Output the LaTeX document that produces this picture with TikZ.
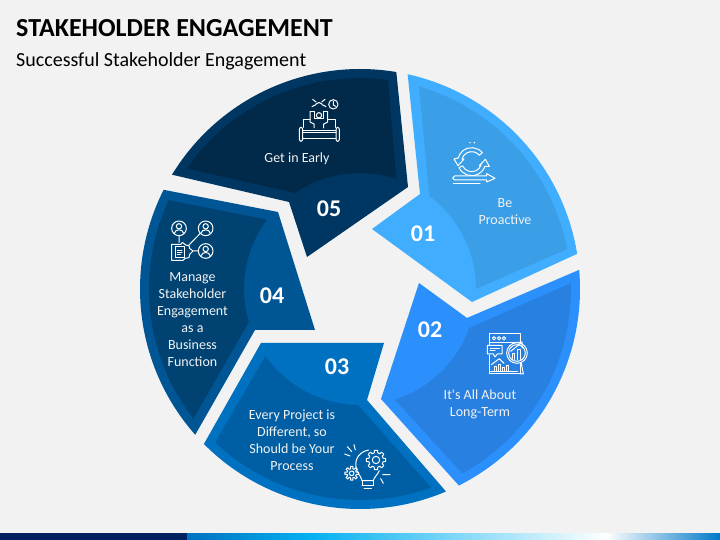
\documentclass[tikz,border=0pt]{standalone}
\usepackage{fontspec}
\setmainfont{Carlito}
\definecolor{pagebg}{HTML}{F2F2F2}
\definecolor{segonea}{HTML}{41ADFF}
\definecolor{segoneb}{HTML}{3A9FE6}
\definecolor{segtwoa}{HTML}{2B8FFC}
\definecolor{segtwob}{HTML}{2880E0}
\definecolor{segthreea}{HTML}{0070C0}
\definecolor{segthreeb}{HTML}{005FA4}
\definecolor{segfoura}{HTML}{005595}
\definecolor{segfourb}{HTML}{004373}
\definecolor{segfivea}{HTML}{003762}
\definecolor{segfiveb}{HTML}{00294A}
\definecolor{barnavy}{HTML}{002060}
\definecolor{barcyan}{HTML}{00B0F0}
\tikzset{
  lbl/.style={text=pagebg, align=center, inner sep=0pt, font=\fontsize{14}{16.9}\selectfont},
  numlbl/.style={text=white, inner sep=0pt, font=\fontsize{24}{28}\selectfont\bfseries},
  icoline/.style={draw=white, line width=1pt, line join=round, line cap=round},
  icozoom/.style={xscale=1/3, yscale=-1/3}
}
% small line-art parts of the icons
\newcommand{\gearico}[3]{
  \begin{scope}[shift={(#1,#2)}]
    \draw[icoline] (-14:#3) \foreach \a in {0,45,...,315}{
      -- ({\a-14}:#3) -- ({\a-9}:#3+7) -- ({\a+9}:#3+7) -- ({\a+14}:#3)} -- cycle;
    \draw[icoline] (0,0) circle ({#3*0.5});
  \end{scope}
}
\newcommand{\personico}[2]{
  \begin{scope}[shift={(#1,#2)}]
    \draw[icoline] (0,0) circle (22);
    \draw[icoline] (0,-6) circle (8);
    \draw[icoline] (-14,15) .. controls (-12,1) and (12,1) .. (14,15);
  \end{scope}
}
\begin{document}
\begin{tikzpicture}[x=1pt, y=1pt]
\useasboundingbox (0,0) rectangle (720,540);
\fill[pagebg] (0,0) rectangle (720,540);

% titles
\node[anchor=base west, inner sep=0pt, font=\fontsize{26}{30}\selectfont\bfseries] (title) at (16,503) {STAKEHOLDER ENGAGEMENT};
\node[anchor=base west, inner sep=0pt, font=\fontsize{20}{24}\selectfont] (subtitle) at (16,473.5) {Successful Stakeholder Engagement};

\coordinate (O) at (360,251);

% outer shapes
\fill[segonea] ([shift={(77.5:220)}]O) arc[start angle=77.5, end angle=9.2, radius=220] -- (472,238) -- (372,311) -- (420,346) -- cycle;
\fill[segtwoa] ([shift={(5:220)}]O) arc[start angle=5, end angle=-63.3, radius=220] -- (381,141) -- (419,257) -- (467,222) -- cycle;
\fill[segthreea] ([shift={(224.8:220)}]O) arc[start angle=224.8, end angle=293, radius=220] -- (367,140) -- (384,197) -- (261,197) -- cycle;
\fill[segfoura] ([shift={(153.2:220)}]O) arc[start angle=153.2, end angle=221.5, radius=220] -- (255,210) -- (315,210) -- (278,328) -- cycle;
\fill[segfivea] ([shift={(148.7:220)}]O) arc[start angle=148.7, end angle=80.5, radius=220] -- (408,353) -- (307,283) -- (289,338) -- cycle;

% darker insets
\fill[segoneb] ([shift={(73.8:211)}]O) arc[start angle=73.8, end angle=10.9, radius=211] -- ([shift={(0:116)}]O) arc[start angle=0, end angle=53.3, radius=116] -- cycle;
\fill[segtwob] ([shift={(1.6:211)}]O) arc[start angle=1.6, end angle=-61, radius=211] -- ([shift={(-72.5:116)}]O) arc[start angle=-72.5, end angle=-19.7, radius=116] -- cycle;
\fill[segthreeb] ([shift={(226.7:211)}]O) arc[start angle=226.7, end angle=289.7, radius=211] -- ([shift={(269:116)}]O) arc[start angle=269, end angle=215.3, radius=116] -- cycle;
\fill[segfourb] ([shift={(155.1:211)}]O) arc[start angle=155.1, end angle=217.9, radius=211] -- ([shift={(196.6:116)}]O) arc[start angle=196.6, end angle=143.3, radius=116] -- cycle;
\fill[segfiveb] ([shift={(145.2:211)}]O) arc[start angle=145.2, end angle=82.4, radius=211] -- ([shift={(71.7:116)}]O) arc[start angle=71.7, end angle=124.1, radius=116] -- cycle;

% numbers
\node[numlbl] (numone) at (423,306.5) {01};
\node[numlbl] (numtwo) at (430,210.5) {02};
\node[numlbl] (numthree) at (337,173.5) {03};
\node[numlbl] (numfour) at (272,244.5) {04};
\node[numlbl] (numfive) at (329,331.5) {05};

% texts
\node[lbl] (txtone) at (505,328) {Be\\Proactive};
\node[lbl] (txttwo) at (480,135.5) {It\textquotesingle s All About\\Long-Term};
\node[lbl] (txtthree) at (292,100) {Every Project is\\Different, so\\Should be Your\\Process};
\node[lbl] (txtfour) at (192.5,220.5) {Manage\\Stakeholder\\Engagement\\as a\\Business\\Function};
\node[lbl] (txtfive) at (297,381) {Get in Early};

% icon 01
\begin{scope}[shift={(440,410)}, icozoom]
  \fill[white] (90,38) circle (2.5) (103,38) circle (2.5);
  \draw[icoline] (127.2,68) arc[start angle=320, end angle=195, radius=42] -- (42,87) -- (54,107) -- (72,87) -- (66,87.2) arc[start angle=195, end angle=320, radius=30] -- cycle;
  \draw[icoline] (57,112.7) arc[start angle=155, end angle=20, radius=42] -- (148,109) -- (136,88) -- (118,107) -- (123.2,105.3) arc[start angle=20, end angle=155, radius=30] -- cycle;
  \draw[icoline, fill=segoneb] (44,138) -- (140,138) -- (140,131) -- (165,145) -- (140,156) -- (140,150) -- (44,150) -- (38,144) -- cycle;
  \draw[icoline] (40,161) -- (120,161);
\end{scope}

% icon 02
\begin{scope}[shift={(480,210)}, icozoom]
  \draw[icoline] (28,45) -- (28,12) -- (120,12) -- (120,132) -- (28,132) -- (28,75);
  \draw[icoline] (28,38) -- (120,38);
  \foreach \x in {42,57,72} \draw[icoline] (\x,25) circle (5);
  \draw[icoline, fill=segtwob] (22,46) -- (66,46) -- (66,72) -- (52,72) -- (45,81) -- (40,72) -- (22,72) -- cycle;
  \draw[icoline] (30,55) -- (58,55) (30,63) -- (45,63);
  \draw[icoline] (34,104) -- (58,86) -- (72,100);
  \foreach \x/\h in {42/110,54/104,66/112,78/108} \draw[icoline] (\x,124) -- (\x,\h) -- (\x+8,\h) -- (\x+8,124);
  \draw[icoline] (32,124) -- (112,124);
  \draw[icoline] (124,100) -- (130,132) -- (120,132);
  \draw[icoline, fill=segtwob] (111,69) circle (31);
  \draw[icoline] (111,69) circle (25);
  \draw[icoline] (96,85) -- (96,72) -- (104,72) -- (104,88) (112,90) -- (112,60) -- (120,60) -- (120,88);
  \draw[icoline] (92,64) -- (122,40) (108,38) -- (126,36) -- (126,54);
\end{scope}

% icon 03
\begin{scope}[shift={(340,100)}, icozoom]
  \gearico{108}{60}{22}
  \gearico{35}{100}{14}
  \draw[icoline] (86,30) .. controls (60,35) and (44,55) .. (48,80) .. controls (50,100) and (62,105) .. (66,122) -- (100,122) .. controls (102,112) and (112,105) .. (118,92);
  \draw[icoline] (66,122) -- (66,136) (100,122) -- (100,136) (66,136) -- (100,136) (72,146) -- (94,146);
  \draw[icoline] (22,20) -- (35,35) (42,14) -- (46,30) (14,42) -- (30,48);
  \draw[icoline] (128,104) -- (150,104) (122,116) -- (130,130);
\end{scope}

% icon 04
\begin{scope}[shift={(165,325)}, icozoom]
  \personico{42}{40}
  \personico{122}{40}
  \personico{122}{108}
  \draw[icoline] (42,62) -- (42,82) (106,55) -- (72,90) (100,108) -- (86,108);
  \draw[icoline] (20,88) -- (48,88) -- (52,82) -- (62,90) -- (72,92) -- (74,100) -- (84,108) -- (74,118) -- (72,128) -- (60,130) -- (54,136) -- (20,136) -- cycle;
  \draw[icoline] (30,96) -- (58,96) -- (58,128) -- (30,128) -- cycle;
  \draw[icoline] (37,106) -- (51,106) (37,113) -- (51,113) (37,120) -- (46,120);
\end{scope}

% icon 05
\begin{scope}[shift={(290,448)}, icozoom]
  \draw[icoline] (130,37) circle (14);
  \draw[icoline] (130,28) -- (130,39) -- (137,43);
  \draw[icoline] (68,22) -- (78,30) (105,22) -- (95,30) (66,44) -- (78,38) (108,44) -- (96,38) (78,36) .. controls (82,30) and (92,30) .. (96,36);
  \draw[icoline] (40,106) -- (40,82) -- (60,82) (135,106) -- (135,82) -- (113,82);
  \draw[icoline] (60,60) -- (60,90) -- (72,96) -- (72,108) (113,60) -- (113,90) -- (101,96) -- (101,108);
  \draw[icoline] (60,60) -- (72,60) -- (72,80) -- (101,80) -- (101,60) -- (113,60);
  \draw[icoline] (87,70) circle (8);
  \draw[icoline, rounded corners=2pt] (28,106) rectangle (38,148) (138,106) rectangle (148,148);
  \draw[icoline] (38,116) -- (138,116) (38,122) -- (138,122) (38,140) -- (138,140);
\end{scope}

% bottom bar
\fill[white] (0,6.5) rectangle (720,7.2);
\fill[barnavy] (0,0) rectangle (187,6.5);
\shade[left color=segthreea, right color=barcyan] (187,0) rectangle (307,6.5);
\shade[left color=barcyan, right color=white] (307,0) rectangle (606,6.5);
\shade[left color=white, right color=segthreea!85!barcyan] (606,0) rectangle (720,6.5);
\end{tikzpicture}
\end{document}
